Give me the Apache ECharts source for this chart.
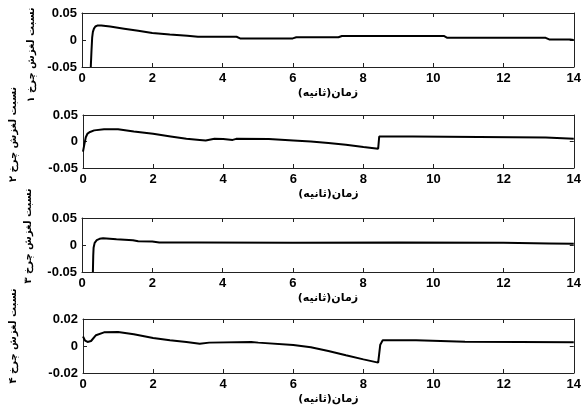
<!DOCTYPE html>
<html><head><meta charset="utf-8">
<script src="https://cdn.jsdelivr.net/npm/echarts@6/dist/echarts.min.js"></script>
<style>html,body{margin:0;padding:0;background:#fff}#c{width:584px;height:409px}</style>
</head><body><div id="c"></div>
<script>
// ---- data ----
const t1 = [0.25,0.27,0.29,0.31,0.34,0.38,0.45,0.55,0.8,1.2,1.6,2.0,2.5,3.0,3.3,4.4,4.5,6.0,6.1,7.3,7.4,10.3,10.4,13.2,13.3,13.9,14];
const v1 = [-0.05,-0.02,0.005,0.015,0.021,0.025,0.027,0.027,0.025,0.021,0.017,0.013,0.010,0.008,0.006,0.006,0.003,0.003,0.005,0.005,0.0075,0.0075,0.004,0.004,0.001,0.001,0.0];
const t2 = [0,0.04,0.08,0.13,0.2,0.32,0.6,1.0,1.45,2.0,2.5,2.95,3.33,3.5,3.75,4.0,4.27,4.37,5.3,6.0,6.5,7.0,7.5,8.0,8.42,8.45,9.4,9.45,13.2,13.25,14];
const v2 = [-0.019,-0.005,0.008,0.015,0.018,0.021,0.023,0.023,0.019,0.0145,0.0095,0.005,0.003,0.002,0.005,0.0045,0.003,0.005,0.0045,0.002,0.0,-0.003,-0.006,-0.0105,-0.0137,0.0094,0.0094,0.0075,0.0075,0.005,0.005];
const t3 = [0.31,0.32,0.33,0.36,0.42,0.5,0.6,0.98,1.45,1.6,2.0,2.2,3.3,6,9,12,13.3,14];
const v3 = [-0.05,-0.02,-0.005,0.004,0.009,0.0115,0.0125,0.0105,0.0087,0.007,0.0065,0.0045,0.0044,0.0042,0.0044,0.004,0.003,0.0025];
const t4 = [0,0.06,0.13,0.23,0.37,0.6,1.0,1.45,2.0,2.48,2.95,3.33,3.6,4.8,5.0,6.0,6.5,7.0,7.5,8.0,8.42,8.45,8.48,8.55,9.5,9.55,10.9,10.95,14];
const v4 = [0.007,0.004,0.003,0.0037,0.008,0.0101,0.0104,0.0087,0.006,0.0042,0.003,0.0017,0.0025,0.003,0.0025,0.0008,-0.001,-0.0037,-0.0069,-0.0099,-0.0123,-0.0123,0.001,0.0042,0.0042,0.0032,0.0032,0.0027,0.0027];
const yNames = ['نسبت لغزش چرخ ۱','نسبت لغزش چرخ ۲','نسبت لغزش چرخ ۳','نسبت لغزش چرخ ۴'];
const xName = 'زمان(ثانیه)';
const yMin = [-0.05,-0.05,-0.05,-0.02];
const yMax = [0.05,0.05,0.05,0.02];
const yStep = [0.05,0.05,0.05,0.02];
const xMin = 0, xMax = 14, xStep = 2;

// ---- layout ----
const T = [t1,t2,t3,t4], V = [v1,v2,v3,v4];
const gridTops = [13,115,218,319];
const gridHeights = [54,53,54,54];
const nameGaps = [40,65,49,65];
const namePads = [[0,30,0,0],[0,0,0,14],[0,0,0,18],[0,0,0,20]];
const lineCol = '#222';
const labelFont = {color:'#000', fontWeight:'bold', fontSize:13, fontFamily:'Arial, Liberation Sans'};

const grid=[], xAxis=[], yAxis=[], series=[];
for (let i=0;i<4;i++){
  grid.push({left:82, right:6, top:gridTops[i], height:gridHeights[i], containLabel:false});
  xAxis.push({type:'value', gridIndex:i, min:xMin, max:xMax, interval:xStep, position:'bottom',
    axisLine:{show:true,onZero:false,lineStyle:{color:lineCol,width:1}},
    axisTick:{show:true,inside:true,length:4,lineStyle:{color:lineCol}},
    axisLabel:Object.assign({margin:5}, labelFont),
    splitLine:{show:false},
    name:xName, nameLocation:'middle', nameGap:21,
    nameTextStyle:{color:'#000', fontWeight:'bold', fontSize:11, fontFamily:'DejaVu Sans'}});
  xAxis.push({type:'value', gridIndex:i, min:xMin, max:xMax, interval:xStep, position:'top',
    axisLine:{show:true,onZero:false,lineStyle:{color:lineCol,width:1}},
    axisTick:{show:true,inside:true,length:4,lineStyle:{color:lineCol}},
    axisLabel:{show:false}, splitLine:{show:false}});
  yAxis.push({type:'value', gridIndex:i, min:yMin[i], max:yMax[i], interval:yStep[i], position:'left',
    axisLine:{show:true,onZero:false,lineStyle:{color:lineCol,width:1}},
    axisTick:{show:true,inside:true,length:4,lineStyle:{color:lineCol}},
    axisLabel:Object.assign({margin:5}, labelFont),
    splitLine:{show:false},
    name:yNames[i], nameLocation:'middle', nameRotate:90, nameGap:nameGaps[i],
    nameTextStyle:{color:'#000', fontWeight:'bold', fontSize:10, fontFamily:'DejaVu Sans', padding:namePads[i]}});
  yAxis.push({type:'value', gridIndex:i, min:yMin[i], max:yMax[i], interval:yStep[i], position:'right',
    axisLine:{show:true,onZero:false,lineStyle:{color:lineCol,width:1}},
    axisTick:{show:true,inside:true,length:4,lineStyle:{color:lineCol}},
    axisLabel:{show:false}, splitLine:{show:false}});
  series.push({type:'line', xAxisIndex:2*i, yAxisIndex:2*i, showSymbol:false, symbol:'none',
    lineStyle:{color:'#000', width:2}, clip:true, animation:false,
    data:T[i].map((t,k)=>[t,V[i][k]])});
}
const chart = echarts.init(document.getElementById('c'), null, {renderer:'canvas'});
chart.setOption({animation:false, backgroundColor:'#fff', grid, xAxis, yAxis, series});
</script>
</body></html>
